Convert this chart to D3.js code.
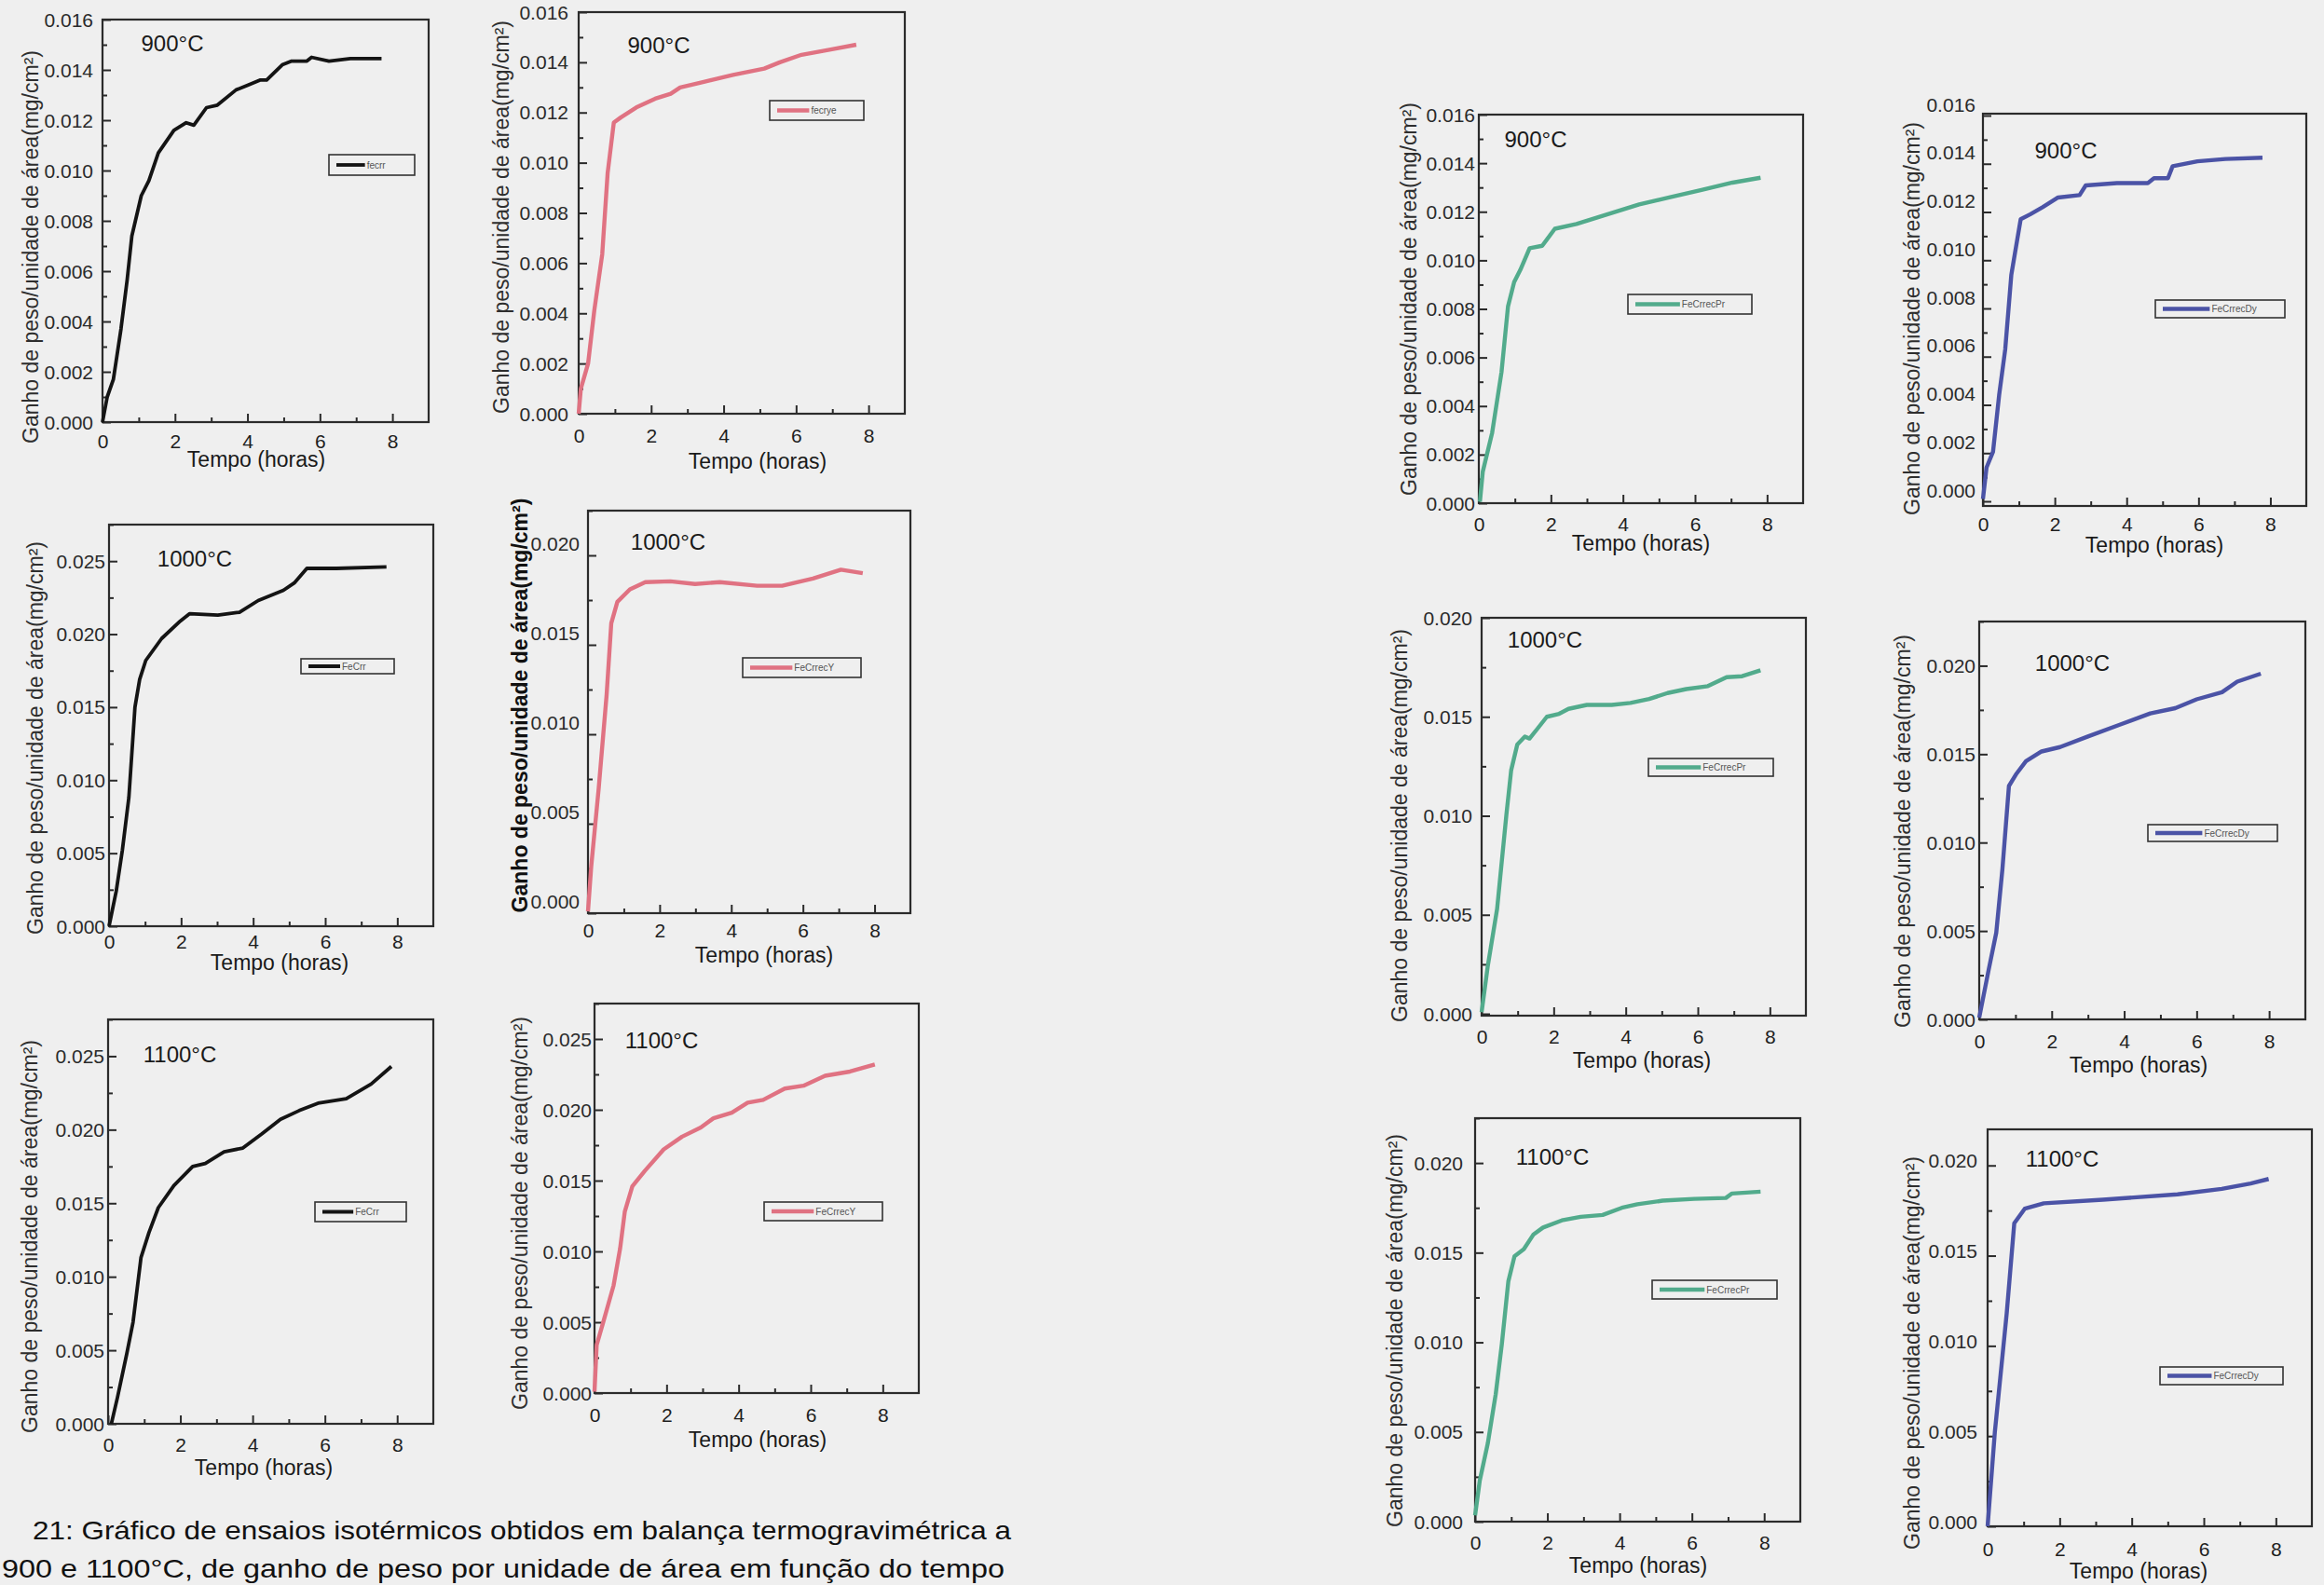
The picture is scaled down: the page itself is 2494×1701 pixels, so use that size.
<!DOCTYPE html>
<html>
<head>
<meta charset="utf-8">
<script src="https://cdn.jsdelivr.net/npm/d3@7"></script>
<style>
body { margin: 0; background: #efefef; }
svg { display: block; font-family: "Liberation Sans", Arial, sans-serif; }
</style>
</head>
<body>
<svg id="fig" width="2494" height="1701"></svg>
<script>
// [tempo (horas), ganho (mg/cm2)]
var feCr900 = [[0,0],[0.13,0.001],[0.3,0.0017],[0.51,0.0037],[0.68,0.00565],[0.81,0.0074],[1.07,0.009],[1.28,0.0096],[1.54,0.0107],[1.97,0.0116],[2.31,0.0119],[2.52,0.0118],[2.87,0.0125],[3.17,0.0126],[3.68,0.0132],[4.02,0.0134],[4.36,0.0136],[4.53,0.0136],[4.96,0.0142],[5.22,0.01435],[5.64,0.01435],[5.77,0.0145],[6.25,0.01435],[6.84,0.01445],[7.7,0.01445]];
var feCrY900 = [[0,0],[0.06,0.001],[0.26,0.002],[0.43,0.0041],[0.65,0.00635],[0.8,0.0096],[0.97,0.0116],[1.16,0.0118],[1.59,0.0122],[2.11,0.01255],[2.54,0.01275],[2.8,0.013],[3.4,0.0132],[4.26,0.0135],[5.12,0.01375],[5.55,0.014],[6.15,0.0143],[6.92,0.0145],[7.66,0.0147]];
var feCr1000 = [[0,0],[0.2,0.0024],[0.37,0.0052],[0.55,0.0088],[0.72,0.015],[0.85,0.0169],[1.02,0.0182],[1.46,0.0197],[1.98,0.0209],[2.24,0.0214],[3.02,0.0213],[3.62,0.0215],[4.14,0.0223],[4.84,0.023],[5.14,0.0235],[5.49,0.0245],[6.31,0.0245],[7.7,0.0246]];
var feCrY1000 = [[0,0.0001],[0.09,0.0026],[0.3,0.007],[0.52,0.0122],[0.65,0.0162],[0.82,0.0174],[1.17,0.0181],[1.6,0.0185],[2.3,0.01855],[2.99,0.0184],[3.68,0.0185],[4.72,0.0183],[5.42,0.0183],[6.28,0.0187],[7.06,0.0192],[7.67,0.019]];
var feCr1100 = [[0.09,0],[0.26,0.0018],[0.52,0.0048],[0.69,0.0069],[0.91,0.0113],[1.13,0.013],[1.39,0.0147],[1.82,0.0162],[2.34,0.0175],[2.69,0.0177],[3.21,0.0185],[3.73,0.01875],[4.25,0.0197],[4.77,0.0207],[5.29,0.0213],[5.81,0.0218],[6.59,0.0221],[7.28,0.0231],[7.84,0.0243]];
var feCrY1100 = [[0,0.0001],[0.06,0.0034],[0.23,0.0049],[0.53,0.0076],[0.71,0.0102],[0.84,0.0128],[1.05,0.0146],[1.4,0.0157],[1.92,0.0172],[2.43,0.0181],[2.95,0.01875],[3.3,0.0194],[3.81,0.0198],[4.25,0.0205],[4.68,0.0207],[5.28,0.0215],[5.8,0.0217],[6.4,0.0224],[7.09,0.0227],[7.78,0.0232]];
var feCrPr900 = [[0.03,0.00006],[0.11,0.0013],[0.37,0.0029],[0.63,0.0054],[0.81,0.0081],[0.98,0.0091],[1.15,0.0096],[1.41,0.0105],[1.76,0.0106],[2.11,0.0113],[2.71,0.0115],[3.58,0.0119],[4.45,0.0123],[5.31,0.0126],[6.18,0.0129],[7.04,0.0132],[7.82,0.0134]];
var feCrDy900 = [[0,0.0001],[0.1,0.0014],[0.28,0.00205],[0.45,0.0044],[0.62,0.0063],[0.79,0.0094],[1.05,0.0117],[1.31,0.0119],[1.66,0.0122],[2.09,0.0126],[2.69,0.0127],[2.86,0.0131],[3.73,0.0132],[4.59,0.0132],[4.76,0.0134],[5.15,0.0134],[5.28,0.0139],[5.97,0.0141],[6.75,0.0142],[7.78,0.01425]];
var feCrPr1000 = [[0,0.00008],[0.17,0.0024],[0.43,0.0053],[0.69,0.0101],[0.82,0.0123],[0.99,0.0136],[1.2,0.014],[1.33,0.0139],[1.55,0.0144],[1.81,0.015],[2.15,0.01515],[2.41,0.0154],[2.92,0.0156],[3.61,0.0156],[4.13,0.0157],[4.65,0.0159],[5.16,0.0162],[5.68,0.0164],[6.28,0.01655],[6.8,0.017],[7.23,0.01705],[7.74,0.01735]];
var feCrDy1000 = [[0,0.0001],[0.26,0.0028],[0.47,0.0049],[0.64,0.0085],[0.82,0.0132],[1.03,0.0139],[1.29,0.0146],[1.72,0.01515],[2.23,0.0154],[3.0,0.016],[3.86,0.01665],[4.72,0.0173],[5.41,0.0176],[6.0,0.0181],[6.7,0.0185],[7.12,0.0191],[7.77,0.01955]];
var feCrPr1100 = [[0,0.00035],[0.13,0.0023],[0.35,0.00435],[0.57,0.0071],[0.74,0.0099],[0.92,0.0134],[1.09,0.0148],[1.35,0.0152],[1.61,0.016],[1.88,0.0164],[2.4,0.0168],[2.92,0.017],[3.53,0.0171],[4.06,0.0175],[4.49,0.0177],[5.19,0.0179],[6.06,0.018],[6.94,0.01805],[7.11,0.0183],[7.9,0.0184]];
var feCrDy1100 = [[0,0],[0.2,0.0052],[0.53,0.0118],[0.74,0.0168],[1.03,0.0176],[1.56,0.0179],[3.2,0.0181],[5.27,0.0184],[6.5,0.0187],[7.3,0.019],[7.8,0.01925]];

// tick labels
var xTicks = [0, 2, 4, 6, 8];
var yTicks016 = [0, 0.002, 0.004, 0.006, 0.008, 0.010, 0.012, 0.014, 0.016];
var yTicks020 = [0, 0.005, 0.010, 0.015, 0.020];
var yTicks025 = [0, 0.005, 0.010, 0.015, 0.020, 0.025];

var yTitle = "Ganho de peso/unidade de área(mg/cm²)";
var xTitle = "Tempo (horas)";
var caption1 = "21: Gráfico de ensaios isotérmicos obtidos em balança termogravimétrica a";
var caption2 = "900 e 1100°C, de ganho de peso por unidade de área em função do tempo";

var black = "#141414", pink = "#e07282", green = "#52ab8c", blue = "#4b53a6";

var panels = [
  {data: feCr900, color: black, lw: 3.8, temp: "900°C", name: "fecrr", box: [110,21,460,453], yMax: 0.016, yt: yTicks016, ypad: 10, xlab: 473, ytx: 33, yty: 265, xtx: 275, xty: 493, tp: [185,47], lg: [353,166,445,188]},
  {data: feCrY900, color: pink, lw: 4.4, temp: "900°C", name: "fecrye", box: [621,13,971,444], yMax: 0.016, yt: yTicks016, ypad: 11, xlab: 467, ytx: 538, yty: 233, xtx: 813, xty: 495, tp: [707,49], lg: [826,108,927,129]},
  {data: feCr1000, color: black, lw: 3.8, temp: "1000°C", name: "FeCrr", box: [117,563,465,994], yMax: 0.0275, yt: yTicks025, ypad: 4, xlab: 1010, ytx: 38, yty: 792, xtx: 300, xty: 1033, tp: [209,600], lg: [323,707,423,723]},
  {data: feCrY1000, color: pink, lw: 4.4, temp: "1000°C", name: "FeCrrecY", box: [631,548,977,980], yMax: 0.0225, yt: yTicks020, ypad: 9, ldy: -13, xlab: 998, ytx: 558, yty: 757, xtx: 820, xty: 1025, tp: [717,582], lg: [797,706,924,727], bold: true},
  {data: feCr1100, color: black, lw: 3.8, temp: "1100°C", name: "FeCrr", box: [116,1094,465,1528], yMax: 0.0275, yt: yTicks025, ypad: 4, xlab: 1550, ytx: 32, yty: 1327, xtx: 283, xty: 1575, tp: [193,1132], lg: [338,1290,436,1311]},
  {data: feCrY1100, color: pink, lw: 4.4, temp: "1100°C", name: "FeCrrecY", box: [638,1077,986,1495], yMax: 0.0275, yt: yTicks025, ypad: 3, xlab: 1518, ytx: 558, yty: 1302, xtx: 813, xty: 1545, tp: [710,1117], lg: [820,1290,947,1310]},
  {data: feCrPr900, color: green, lw: 4.4, temp: "900°C", name: "FeCrrecPr", box: [1587,123,1935,540], yMax: 0.016, yt: yTicks016, ypad: 4, xlab: 562, ytx: 1512, yty: 321, xtx: 1761, xty: 583, tp: [1648,150], lg: [1747,316,1880,337]},
  {data: feCrDy900, color: blue, lw: 4.4, temp: "900°C", name: "FeCrrecDy", box: [2128,122,2475,543], yr: [538,124], yMax: 0.016, yt: yTicks016, ypad: 8, ldy: -12, xlab: 562, ytx: 2052, yty: 342, xtx: 2312, xty: 585, tp: [2217,162], lg: [2313,322,2452,341]},
  {data: feCrPr1000, color: green, lw: 4.4, temp: "1000°C", name: "FeCrrecPr", box: [1590,663,1938,1090], yr: [1088,663], yMax: 0.020, yt: yTicks020, ypad: 10, xlab: 1112, ytx: 1502, yty: 886, xtx: 1762, xty: 1138, tp: [1658,687], lg: [1769,814,1903,833]},
  {data: feCrDy1000, color: blue, lw: 4.4, temp: "1000°C", name: "FeCrrecDy", box: [2124,667,2474,1094], yMax: 0.0225, yt: yTicks020, ypad: 4, xlab: 1117, ytx: 2042, yty: 892, xtx: 2295, xty: 1143, tp: [2224,712], lg: [2305,885,2444,903]},
  {data: feCrPr1100, color: green, lw: 4.4, temp: "1100°C", name: "FeCrrecPr", box: [1583,1200,1932,1633], yMax: 0.0225, yt: yTicks020, ypad: 13, xlab: 1655, ytx: 1497, yty: 1428, xtx: 1758, xty: 1680, tp: [1666,1242], lg: [1773,1374,1907,1394]},
  {data: feCrDy1100, color: blue, lw: 4.4, temp: "1100°C", name: "FeCrrecDy", box: [2133,1212,2481,1638], yMax: 0.022, yt: yTicks020, ypad: 11, ldy: -5, xlab: 1662, ytx: 2052, yty: 1452, xtx: 2295, xty: 1686, tp: [2213,1244], lg: [2318,1467,2450,1486]}
];

var svg = d3.select("#fig");

panels.forEach(function(p) {
  var b = p.box;
  var yr = p.yr || [b[3], b[1]];
  var x = d3.scaleLinear().domain([0, 9]).range([b[0], b[2]]);
  var y = d3.scaleLinear().domain([0, p.yMax]).range(yr);
  var g = svg.append("g");

  // minor ticks halfway between the labelled ones
  var step = p.yt[1] - p.yt[0];
  var yMinor = p.yt.map(function(v) { return v + step / 2; })
    .filter(function(v) { return v <= p.yMax + 1e-9; });
  var xMinor = [1, 3, 5, 7];

  var xa = g.append("g").attr("transform", "translate(0," + b[3] + ")")
    .call(d3.axisBottom(x).tickValues(xTicks).tickSize(-9).tickSizeOuter(0)
      .tickPadding(p.xlab - b[3] - 7).tickFormat(d3.format("d")));
  g.append("g").attr("transform", "translate(0," + b[3] + ")")
    .call(d3.axisBottom(x).tickValues(xMinor).tickSize(-5).tickFormat(""));

  var ya = g.append("g").attr("transform", "translate(" + b[0] + ",0)")
    .call(d3.axisLeft(y).tickValues(p.yt).tickSize(-9).tickSizeOuter(0)
      .tickPadding(p.ypad).tickFormat(d3.format(".3f")));
  g.append("g").attr("transform", "translate(" + b[0] + ",0)")
    .call(d3.axisLeft(y).tickValues(yMinor).tickSize(-5).tickFormat(""));

  g.selectAll(".domain").remove();
  g.selectAll(".tick line").attr("stroke", "#2a2a2a").attr("stroke-width", 2);
  xa.selectAll("text").attr("font-size", 21).attr("fill", "#1e1e1e");
  ya.selectAll("text").attr("font-size", 21).attr("fill", "#2a2a2a")
    .attr("dy", (p.ldy || 0) + 7);

  g.append("rect")
    .attr("x", b[0]).attr("y", b[1])
    .attr("width", b[2] - b[0]).attr("height", b[3] - b[1])
    .attr("fill", "none").attr("stroke", "#2b2b2b").attr("stroke-width", 2.2);

  var line = d3.line()
    .x(function(d) { return x(d[0]); })
    .y(function(d) { return y(d[1]); });

  g.append("path").datum(p.data)
    .attr("d", line)
    .attr("fill", "none")
    .attr("stroke", p.color)
    .attr("stroke-width", p.lw)
    .attr("stroke-linejoin", "round");

  g.append("text")
    .attr("x", p.tp[0]).attr("y", p.tp[1]).attr("dy", "0.35em")
    .attr("text-anchor", "middle").attr("font-size", 24).attr("fill", "#1a1a1a")
    .text(p.temp);

  // legend
  var l = p.lg;
  g.append("rect")
    .attr("x", l[0]).attr("y", l[1])
    .attr("width", l[2] - l[0]).attr("height", l[3] - l[1])
    .attr("fill", "none").attr("stroke", "#333").attr("stroke-width", 1.6);
  var ly = (l[1] + l[3]) / 2;
  var lx2 = l[0] + (l[2] - l[0]) * 0.42;
  g.append("line")
    .attr("x1", l[0] + 8).attr("x2", lx2).attr("y1", ly).attr("y2", ly)
    .attr("stroke", p.color).attr("stroke-width", p.lw);
  g.append("text")
    .attr("x", lx2 + 2).attr("y", ly).attr("dy", "0.35em")
    .attr("font-size", 10).attr("fill", "#555")
    .text(p.name);

  g.append("text")
    .attr("transform", "translate(" + p.ytx + "," + p.yty + ") rotate(-90)")
    .attr("dy", "0.35em").attr("text-anchor", "middle")
    .attr("font-size", 23)
    .attr("font-weight", p.bold ? "bold" : "normal")
    .attr("fill", p.bold ? "#111" : "#2e2e2e")
    .text(yTitle);

  g.append("text")
    .attr("x", p.xtx).attr("y", p.xty).attr("dy", "0.35em")
    .attr("text-anchor", "middle").attr("font-size", 23).attr("fill", "#1a1a1a")
    .text(xTitle);
});

svg.append("text")
  .attr("x", 35).attr("y", 1652)
  .attr("font-size", 28).attr("fill", "#111")
  .attr("textLength", 1050).attr("lengthAdjust", "spacingAndGlyphs")
  .text(caption1);

svg.append("text")
  .attr("x", 2).attr("y", 1693)
  .attr("font-size", 28).attr("fill", "#111")
  .attr("textLength", 1076).attr("lengthAdjust", "spacingAndGlyphs")
  .text(caption2);
</script>
</body>
</html>
